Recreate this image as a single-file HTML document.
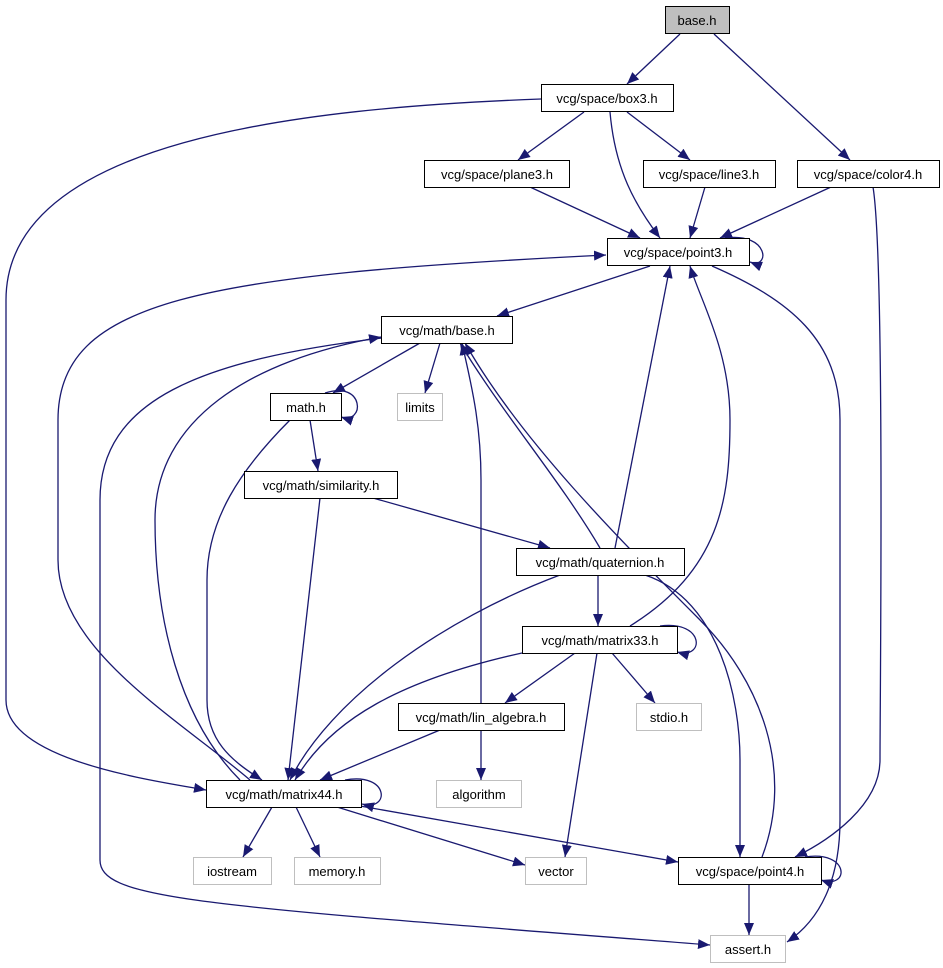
<!DOCTYPE html>
<html><head><meta charset="utf-8"><style>
html,body{margin:0;padding:0;background:#fff;}
svg{display:block;}
text{font-family:"Liberation Sans",sans-serif;font-size:13px;text-anchor:middle;fill:#000;}
</style></head><body>
<svg width="943" height="968" viewBox="0 0 943 968" xmlns="http://www.w3.org/2000/svg">
<defs>
<marker id="a" viewBox="0 0 12 10" refX="12" refY="5" markerWidth="12" markerHeight="10" markerUnits="userSpaceOnUse" orient="auto">
<polygon points="0,0 12,5 0,10" fill="#191970"/>
</marker>
</defs>
<g fill="none" stroke="#191970" stroke-width="1.3" marker-end="url(#a)">
<path d="M680,34 L627,84"/>
<path d="M714,34 L850,160"/>
<path d="M584,112 L518,160"/>
<path d="M627,112 L690,160"/>
<path d="M610,112 C615,170 635,205 660,238"/>
<path d="M541,99 C300,108 6,140 6,300 L6,700 C6,760 150,780 206,790"/>
<path d="M530,187 L640,238"/>
<path d="M705,187 L690,238"/>
<path d="M831,187 L720,238"/>
<path d="M873,187 C885,260 880,700 880,760 C880,805 830,840 795,857"/>
<path d="M725,238 C770,232 770,270 750,262"/>
<path d="M650,266 L497,316"/>
<path d="M712,266 C790,300 840,340 840,420 L840,820 C840,880 820,920 787,942"/>
<path d="M250,780 C180,720 58,650 58,560 L58,420 C58,300 200,275 606,255"/>
<path d="M420,343 L333,393"/>
<path d="M440,343 L425,393"/>
<path d="M382,338 C200,360 100,400 100,500 L100,860 C100,900 200,905 710,945"/>
<path d="M240,780 C180,720 155,620 155,520 C155,420 250,360 381,337"/>
<path d="M325,393 C365,380 365,425 341,417"/>
<path d="M310,420 L318,471"/>
<path d="M290,420 C240,470 207,520 207,580 L207,700 C207,740 230,760 262,780"/>
<path d="M373,498 L550,548"/>
<path d="M320,498 L288,780"/>
<path d="M600,548 C560,480 500,410 460,343"/>
<path d="M615,548 L670,266"/>
<path d="M598,575 L598,626"/>
<path d="M560,575 C440,620 330,700 290,780"/>
<path d="M645,575 C720,600 740,700 740,760 L740,857"/>
<path d="M660,626 C705,620 705,660 677,652"/>
<path d="M630,626 C720,570 730,500 730,420 C730,350 700,300 690,266"/>
<path d="M575,653 L505,703"/>
<path d="M612,653 L655,703"/>
<path d="M597,653 L565,857"/>
<path d="M522,653 C400,680 330,720 295,780"/>
<path d="M762,857 C795,770 760,680 700,620 C620,540 520,440 465,343"/>
<path d="M481,703 L481,480 C481,420 470,380 462,343"/>
<path d="M481,730 L481,780"/>
<path d="M440,730 L320,780"/>
<path d="M345,780 C390,772 390,812 362,804"/>
<path d="M272,807 L243,857"/>
<path d="M296,807 L320,857"/>
<path d="M337,807 L525,865"/>
<path d="M360,806 L678,862"/>
<path d="M805,857 C850,850 850,890 821,880"/>
<path d="M749,884 L749,935"/>
</g>
<g stroke="#000" stroke-width="1" fill="#fff">
<rect x="665.5" y="6.5" width="64" height="27" fill="#bfbfbf"/>
<rect x="541.5" y="84.5" width="132" height="27"/>
<rect x="424.5" y="160.5" width="145" height="27"/>
<rect x="643.5" y="160.5" width="132" height="27"/>
<rect x="797.5" y="160.5" width="142" height="27"/>
<rect x="607.5" y="238.5" width="142" height="27"/>
<rect x="381.5" y="316.5" width="131" height="27"/>
<rect x="270.5" y="393.5" width="71" height="27"/>
<rect x="244.5" y="471.5" width="153" height="27"/>
<rect x="516.5" y="548.5" width="168" height="27"/>
<rect x="522.5" y="626.5" width="155" height="27"/>
<rect x="398.5" y="703.5" width="166" height="27"/>
<rect x="206.5" y="780.5" width="155" height="27"/>
<rect x="678.5" y="857.5" width="143" height="27"/>
</g>
<g stroke="#bfbfbf" stroke-width="1" fill="#fff">
<rect x="397.5" y="393.5" width="45" height="27"/>
<rect x="636.5" y="703.5" width="65" height="27"/>
<rect x="436.5" y="780.5" width="85" height="27"/>
<rect x="193.5" y="857.5" width="78" height="27"/>
<rect x="294.5" y="857.5" width="86" height="27"/>
<rect x="525.5" y="857.5" width="61" height="27"/>
<rect x="710.5" y="935.5" width="75" height="27"/>
</g>
<g>
<text x="697" y="25">base.h</text>
<text x="607" y="103">vcg/space/box3.h</text>
<text x="497" y="179">vcg/space/plane3.h</text>
<text x="709" y="179">vcg/space/line3.h</text>
<text x="868" y="179">vcg/space/color4.h</text>
<text x="678" y="257">vcg/space/point3.h</text>
<text x="447" y="335">vcg/math/base.h</text>
<text x="306" y="412">math.h</text>
<text x="420" y="412">limits</text>
<text x="321" y="490">vcg/math/similarity.h</text>
<text x="600" y="567">vcg/math/quaternion.h</text>
<text x="600" y="645">vcg/math/matrix33.h</text>
<text x="481" y="722">vcg/math/lin_algebra.h</text>
<text x="669" y="722">stdio.h</text>
<text x="284" y="799">vcg/math/matrix44.h</text>
<text x="479" y="799">algorithm</text>
<text x="232" y="876">iostream</text>
<text x="337" y="876">memory.h</text>
<text x="556" y="876">vector</text>
<text x="750" y="876">vcg/space/point4.h</text>
<text x="748" y="954">assert.h</text>
</g>
</svg>
</body></html>
